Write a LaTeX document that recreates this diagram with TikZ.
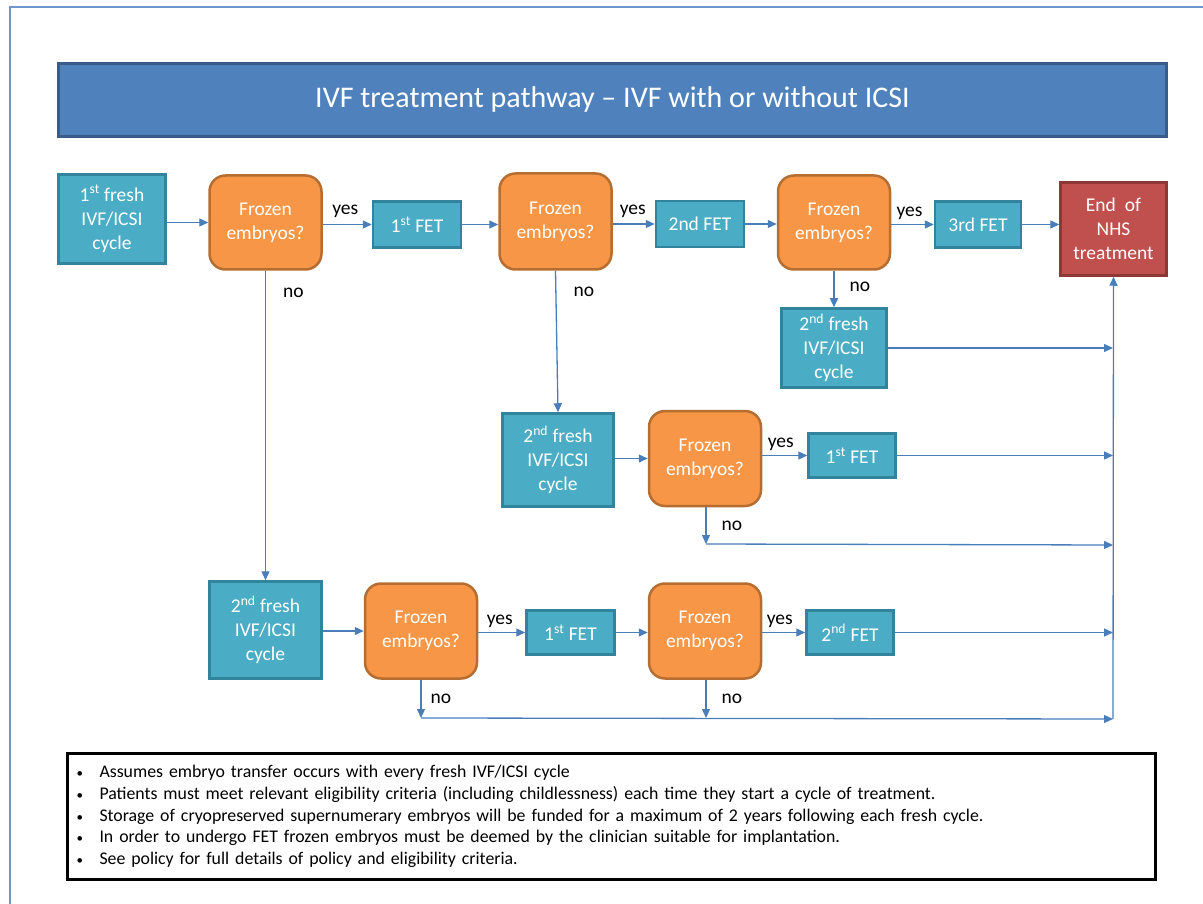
\documentclass[tikz,border=0pt]{standalone}
\usepackage{fontspec}
\setmainfont{Carlito}
\usetikzlibrary{arrows.meta}

\definecolor{titlefill}{HTML}{4F81BD}
\definecolor{titleline}{HTML}{385D8A}
\definecolor{tealfill}{HTML}{4BACC6}
\definecolor{tealline}{HTML}{31849B}
\definecolor{askfill}{HTML}{F79646}
\definecolor{askline}{HTML}{B66D31}
\definecolor{endfill}{HTML}{C0504D}
\definecolor{endline}{HTML}{8C3836}
\definecolor{arrowblue}{HTML}{4A7EBB}
\definecolor{frameblue}{HTML}{6C96CC}

\newcommand{\notebullet}{\makebox[23pt][l]{\fontsize{13}{13}\selectfont\textbullet}}

\begin{document}
\begin{tikzpicture}[x=1pt,y=-1pt,
  boxtext/.style={text=white,align=center,font=\fontsize{19.5}{24}\selectfont},
  freshbox/.style={boxtext,draw=tealline,fill=tealfill,line width=2.5pt,minimum width=#1,minimum height=90pt},
  fetbox/.style={boxtext,draw=tealline,fill=tealfill,line width=2.5pt,minimum width=88pt,minimum height=46pt},
  askbox/.style={boxtext,draw=askline,fill=askfill,line width=2.5pt,rounded corners=16pt,minimum width=112pt,minimum height=94pt},
  endbox/.style={boxtext,draw=endline,fill=endfill,line width=2.5pt,minimum width=106pt,minimum height=93pt},
  arr/.style={draw=arrowblue,line width=1.3pt,-{Triangle[length=9pt,width=8pt]}},
  lbl/.style={text=black,font=\fontsize{19.5}{24}\selectfont,inner sep=1pt}]
\useasboundingbox (0,0) rectangle (1203,904);

% --- outer frame (only left and top edge are visible)
\draw[frameblue,line width=2pt] (10,910) -- (10,7) -- (1210,7);

% --- title bar
\node[draw=titleline,fill=titlefill,line width=3pt,minimum width=1108pt,minimum height=73pt,
  text=white,font=\fontsize{30}{36}\selectfont] (title) at (612.5,100) {IVF treatment pathway -- IVF with or without ICSI};

% ---- top row
\node[freshbox=107pt,minimum height=89pt] (fresh1) at (112,219) {1\textsuperscript{st} fresh\\IVF/ICSI\\cycle};
\node[askbox] (frz1) at (265.5,222.5) {Frozen\\embryos?};
\node[fetbox] (fet1) at (417,224.5) {1\textsuperscript{st} FET};
\node[askbox,minimum height=96pt] (frz2) at (555.5,221.5) {Frozen\\embryos?};
\node[fetbox] (fet2) at (700,224) {2nd FET};
\node[askbox] (frz3) at (834,222.5) {Frozen\\embryos?};
\node[fetbox,minimum width=86pt] (fet3) at (978,224.5) {3rd FET};
\node[endbox] (nhs) at (1113.5,229) {End\ \ of\\NHS\\treatment};

% ---- second fresh cycle on the right
\node[freshbox=105pt,minimum height=79pt] (freshR) at (834,348) {2\textsuperscript{nd} fresh\\IVF/ICSI\\cycle};

% ---- middle row
\node[freshbox=111pt,minimum height=93pt] (freshM) at (558,460) {2\textsuperscript{nd} fresh\\IVF/ICSI\\cycle};
\node[askbox,minimum height=95pt] (frz4) at (705,458.5) {Frozen\\embryos?};
\node[fetbox,minimum width=87pt,minimum height=44pt] (fet4) at (852,455.5) {1\textsuperscript{st} FET};

% ---- bottom row
\node[freshbox=112pt,minimum height=97pt] (freshB) at (265.5,630) {2\textsuperscript{nd} fresh\\IVF/ICSI\\cycle};
\node[askbox,minimum height=95pt] (frz5) at (421,631) {Frozen\\embryos?};
\node[fetbox,minimum width=88pt,minimum height=44pt] (fet5) at (570.5,632.5) {1\textsuperscript{st} FET};
\node[askbox,minimum height=95pt] (frz6) at (705,631) {Frozen\\embryos?};
\node[fetbox,minimum width=87pt,minimum height=44pt] (fet6) at (850,632.5) {2\textsuperscript{nd} FET};

% --- collecting line into the end box
\coordinate (busend) at (1113,719);
\coordinate (no4) at (706,544);
\coordinate (no5) at (421,718);
\coordinate (no6) at (706,718);
\draw[arr] (busend) -- (nhs.south);

% --- top row arrows
\draw[arr] (fresh1.east |- frz1) -- (frz1.west);
\draw[arr] (frz1.east |- fet1) -- node[lbl,above=5pt,xshift=-2pt]{yes} (fet1.west);
\draw[arr] (fet1.east) -- (frz2.west |- fet1);
\draw[arr] (frz2.east |- fet2) -- node[lbl,above=5pt,xshift=-1pt]{yes} (fet2.west);
\draw[arr] (fet2.east) -- (frz3.west |- fet2);
\draw[arr] (frz3.east |- fet3) -- node[lbl,above=3pt,xshift=-3pt]{yes} (fet3.west);
\draw[arr] (fet3.east) -- (nhs.west |- fet3);

% --- the "no" branches
\draw[arr] (frz3.south) -- node[lbl,right=14pt,pos=0.45]{no} (freshR.north);
\draw[arr] (freshR.east) -- (freshR.east -| busend);
\draw[arr] (frz1.south) -- node[lbl,right=16pt,pos=0.07]{no} (freshB.north);
\draw[arr] (frz2.south) -- node[lbl,right=16pt,pos=0.15]{no} (freshM.north);

% --- middle row arrows
\draw[arr] (freshM.east |- frz4) -- (frz4.west);
\draw[arr] (frz4.east |- fet4) -- node[lbl,above=3pt,xshift=-4pt]{yes} (fet4.west);
\draw[arr] (fet4.east) -- (fet4.east -| busend);
\draw[arr] (frz4.south -| no4) -- node[lbl,right=14pt,pos=0.5]{no} (no4);
\draw[arr] (no4) -- (busend |- 0,545);

% --- bottom row arrows
\draw[arr] (freshB.east |- frz5) -- (frz5.west);
\draw[arr] (frz5.east |- fet5) -- node[lbl,above=3pt,xshift=-2pt]{yes} (fet5.west);
\draw[arr] (fet5.east) -- (frz6.west |- fet5);
\draw[arr] (frz6.east |- fet6) -- node[lbl,above=3pt,xshift=-4pt]{yes} (fet6.west);
\draw[arr] (fet6.east) -- (fet6.east -| busend);
\draw[arr] (frz5.south) -- node[lbl,right=8pt,pos=0.5]{no} (no5);
\draw[arr] (frz6.south -| no6) -- node[lbl,right=14pt,pos=0.5]{no} (no6);
\draw[arr] (no5) -- (busend);

% ---- notes box with the bullet list
\node[draw=black,line width=3pt,minimum height=126pt,text width=1070pt,inner xsep=9pt,align=left,
  font=\fontsize{17.8}{21.75}\selectfont] (notes) at (611.5,816.5) {%
\notebullet Assumes embryo transfer occurs with every fresh IVF/ICSI cycle\\
\notebullet Patients must meet relevant eligibility criteria (including childlessness) each time they start a cycle of treatment.\\
\notebullet Storage of cryopreserved supernumerary embryos will be funded for a maximum of 2 years following each fresh cycle.\\
\notebullet In order to undergo FET frozen embryos must be deemed by the clinician suitable for implantation.\\
\notebullet See policy for full details of policy and eligibility criteria.};
\end{tikzpicture}
\end{document}
